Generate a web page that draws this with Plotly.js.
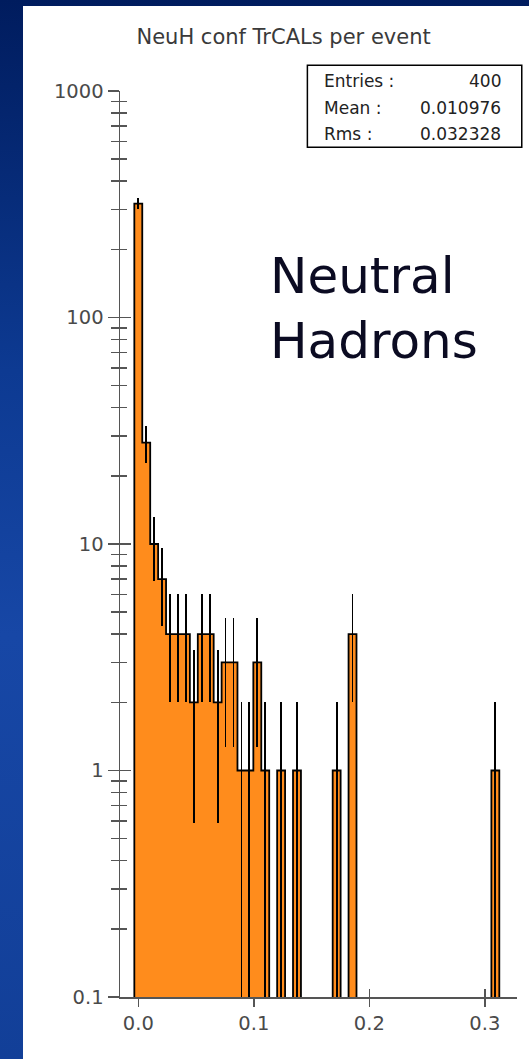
<!DOCTYPE html>
<html>
<head>
<meta charset="utf-8">
<script src="https://cdn.plot.ly/plotly-3.0.1.min.js"></script>
<style>
  html, body { margin: 0; padding: 0; width: 529px; height: 1059px; overflow: hidden;
    background: linear-gradient(180deg, #001c5e 0%, #0d3a92 35%, #1747a6 60%, #123f98 100%); }
  #chart { position: absolute; left: 23px; top: 6px; width: 506px; height: 1053px; background: #fff; }
</style>
</head>
<body>
<div id="chart"></div>
<script>
// ---- data ----
const binWidth = 0.00687;
const binIndex = [0, 1, 2, 3, 4, 5, 6, 7, 8, 9, 10, 11, 12, 13, 14, 15, 16, 18, 20, 25, 27, 45];
const counts   = [318, 28, 10, 7, 4, 4, 4, 2, 4, 4, 2, 3, 3, 1, 1, 3, 1, 1, 1, 1, 4, 1];

const xTickVals = [0, 0.1, 0.2, 0.3];
const xTickText = ['0.0', '0.1', '0.2', '0.3'];
const yTickVals = [0.1, 1, 10, 100, 1000];
const yTickText = ['0.1', '1', '10', '100', '1000'];

const chartTitle = 'NeuH conf TrCALs per event';
const statLabels = ['Entries :', 'Mean :', 'Rms :'];
const statValues = ['400', '0.010976', '0.032328'];
const bigLabel = 'Neutral<br>Hadrons';

// ---- derived ----
const xCenters = binIndex.map(k => k * binWidth);
const errs = counts.map(c => Math.sqrt(c));

// full histogram for step outline
const nBins = Math.max(...binIndex) + 1;
const full = new Array(nBins).fill(0);
binIndex.forEach((k, i) => { full[k] = counts[i]; });
const floorVal = 1e-4;
const stepX = [-0.5 * binWidth];
const stepY = [floorVal];
for (let k = 0; k < nBins; k++) {
  stepX.push((k - 0.5) * binWidth);
  stepY.push(full[k] > 0 ? full[k] : floorVal);
}
stepX.push((nBins - 0.5) * binWidth);
stepY.push(floorVal);

const orange = '#ff8c1c';
const axisGray = '#555555';
const labelFont = { family: 'DejaVu Sans, sans-serif', size: 19.5, color: '#4a4a4a' };

const traces = [
  {
    type: 'bar', x: xCenters, y: counts, width: binWidth,
    marker: { color: orange, line: { width: 0 } },
    error_y: { type: 'data', array: errs, visible: true, color: '#000', thickness: 1.8, width: 0 },
    hoverinfo: 'x+y', showlegend: false
  },
  {
    type: 'scatter', mode: 'lines', x: stepX, y: stepY,
    line: { shape: 'hv', color: '#000', width: 1.8 },
    hoverinfo: 'skip', showlegend: false
  },
  { type: 'scatter', x: [], y: [], xaxis: 'x', yaxis: 'y2', showlegend: false, hoverinfo: 'skip' },
  { type: 'scatter', x: [], y: [], xaxis: 'x2', yaxis: 'y', showlegend: false, hoverinfo: 'skip' }
];

const xRange = [-0.01584, 0.3279];
const yRange = [-1, 3];

// stats box placement (paper fractions)
const boxX0 = 0.472, boxX1 = 1.012, boxY0 = 0.938, boxY1 = 1.0284;
const lineYs = [1.0109, 0.9815, 0.9520];

const annotations = [];
statLabels.forEach((t, i) => {
  annotations.push({ xref: 'paper', yref: 'paper', x: 0.5085, y: lineYs[i], xanchor: 'left', yanchor: 'middle',
    text: t, showarrow: false, font: { family: 'DejaVu Sans, sans-serif', size: 17, color: '#222' } });
  annotations.push({ xref: 'paper', yref: 'paper', x: 0.9635, y: lineYs[i], xanchor: 'right', yanchor: 'middle',
    text: statValues[i], showarrow: false, font: { family: 'DejaVu Sans, sans-serif', size: 17, color: '#222' } });
});
annotations.push({ xref: 'paper', yref: 'paper', x: 0.373, y: 0.760, xanchor: 'left', yanchor: 'middle',
  align: 'left', text: bigLabel, showarrow: false,
  font: { family: 'DejaVu Sans, sans-serif', size: 50, color: '#0b0b22' } });

const layout = {
  width: 506, height: 1053,
  margin: { l: 97, r: 12, t: 85, b: 62, pad: 0 },
  paper_bgcolor: '#ffffff', plot_bgcolor: '#ffffff',
  bargap: 0,
  showlegend: false,
  title: { text: chartTitle, x: 0.515, xref: 'container', y: 0.971, yref: 'container',
    xanchor: 'center', yanchor: 'middle', font: { family: 'DejaVu Sans, sans-serif', size: 21, color: '#3a3a3a' } },
  xaxis: {
    range: xRange, tickmode: 'array', tickvals: xTickVals, ticktext: xTickText,
    ticks: 'outside', ticklen: 8, tickwidth: 1.5, tickcolor: axisGray,
    showline: true, linecolor: axisGray, linewidth: 1.5, showgrid: false, zeroline: false,
    tickfont: labelFont, fixedrange: true
  },
  xaxis2: {
    overlaying: 'x', anchor: 'y', side: 'bottom', range: xRange, tickmode: 'array', tickvals: xTickVals,
    ticks: 'inside', ticklen: 8, tickwidth: 1.5, tickcolor: axisGray, showticklabels: false,
    showline: false, showgrid: false, zeroline: false, layer: 'below traces', fixedrange: true
  },
  yaxis: {
    type: 'log', range: yRange, tickmode: 'array', tickvals: yTickVals, ticktext: yTickText,
    ticks: 'outside', ticklen: 11, tickwidth: 1.5, tickcolor: axisGray,
    minor: { ticks: 'outside', ticklen: 8, tickwidth: 1.5, tickcolor: axisGray, dtick: 'D1', showgrid: false },
    showline: true, linecolor: axisGray, linewidth: 1.5, showgrid: false, zeroline: false,
    tickfont: labelFont, fixedrange: true
  },
  yaxis2: {
    type: 'log', overlaying: 'y', anchor: 'x', side: 'left', range: yRange, tickmode: 'array', tickvals: yTickVals,
    ticks: 'inside', ticklen: 11, tickwidth: 1.5, tickcolor: axisGray, showticklabels: false,
    minor: { ticks: 'inside', ticklen: 7, tickwidth: 1.5, tickcolor: axisGray, dtick: 'D1', showgrid: false },
    showline: false, showgrid: false, zeroline: false, fixedrange: true
  },
  shapes: [
    { type: 'rect', xref: 'paper', yref: 'paper', x0: boxX0, x1: boxX1, y0: boxY0, y1: boxY1,
      line: { color: '#000', width: 1.5 }, fillcolor: 'rgba(255,255,255,1)' }
  ],
  annotations: annotations
};

Plotly.newPlot('chart', traces, layout, { displayModeBar: false, staticPlot: true });
</script>
</body>
</html>
